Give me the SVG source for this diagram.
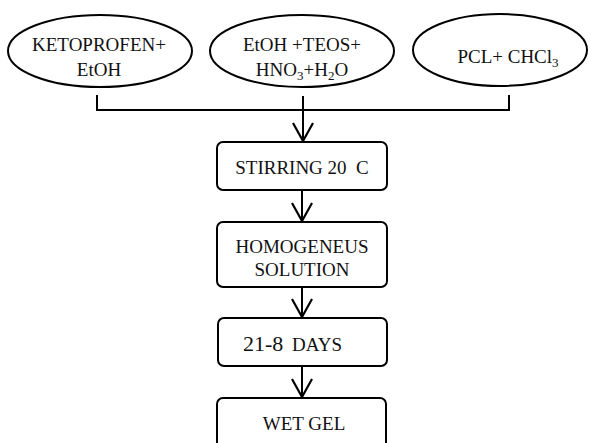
<svg xmlns="http://www.w3.org/2000/svg" width="590" height="443" viewBox="0 0 590 443">
<defs>
<style>
.shape{fill:#fff;stroke:#000;stroke-width:2}
.line{fill:none;stroke:#000;stroke-width:2}
.t{font-family:"Liberation Serif","Times New Roman",serif;font-size:19px;fill:#111;text-anchor:middle}
.sub{font-size:13px}
.big{font-size:22px}
</style>
<marker id="arr" markerWidth="22" markerHeight="22" refX="19" refY="11" markerUnits="userSpaceOnUse" orient="auto" viewBox="0 0 22 22">
<path d="M1,1 L19,11 L1,21" fill="none" stroke="#000" stroke-width="2.2"/>
</marker>
</defs>
<rect width="590" height="443" fill="#fff"/>
<g id="connectors">
<path class="line" d="M97,95 V110 H509 V95"/>
<path class="line" d="M303,96 V141" marker-end="url(#arr)"/>
<path class="line" d="M302,190 V221" marker-end="url(#arr)"/>
<path class="line" d="M302,287 V317" marker-end="url(#arr)"/>
<path class="line" d="M302,366 V397" marker-end="url(#arr)"/>
</g>
<g id="ketoprofen">
<ellipse class="shape" cx="100" cy="51" rx="92" ry="36"/>
<text class="t" x="99" y="51">KETOPROFEN+</text>
<text class="t" x="99" y="76">EtOH</text>
</g>
<g id="etoh-teos">
<ellipse class="shape" cx="302" cy="51" rx="92" ry="36"/>
<text class="t" x="302" y="51">EtOH +TEOS+</text>
<text class="t" x="302" y="76">HNO<tspan class="sub" dy="4">3</tspan><tspan dy="-4">+H</tspan><tspan class="sub" dy="4">2</tspan><tspan dy="-4">O</tspan></text>
</g>
<g id="pcl">
<ellipse class="shape" cx="500" cy="50" rx="87" ry="36"/>
<text class="t" x="508" y="63">PCL+ CHCl<tspan class="sub" dy="4">3</tspan></text>
</g>
<g id="stirring">
<rect class="shape" x="217" y="142" width="170" height="48" rx="6"/>
<text class="t" x="302" y="174" xml:space="preserve">STIRRING 20  C</text>
</g>
<g id="homogeneus">
<rect class="shape" x="217" y="222" width="170" height="65" rx="6"/>
<text class="t" x="302" y="253">HOMOGENEUS</text>
<text class="t" x="302" y="276">SOLUTION</text>
</g>
<g id="days">
<rect class="shape" x="218" y="318" width="169" height="48" rx="6"/>
<text class="t" x="243" y="351" style="text-anchor:start"><tspan class="big">21-8</tspan><tspan x="292">DAYS</tspan></text>
</g>
<g id="wetgel">
<rect class="shape" x="217" y="398" width="169" height="60" rx="6"/>
<text class="t" x="304" y="430">WET GEL</text>
</g>
</svg>
